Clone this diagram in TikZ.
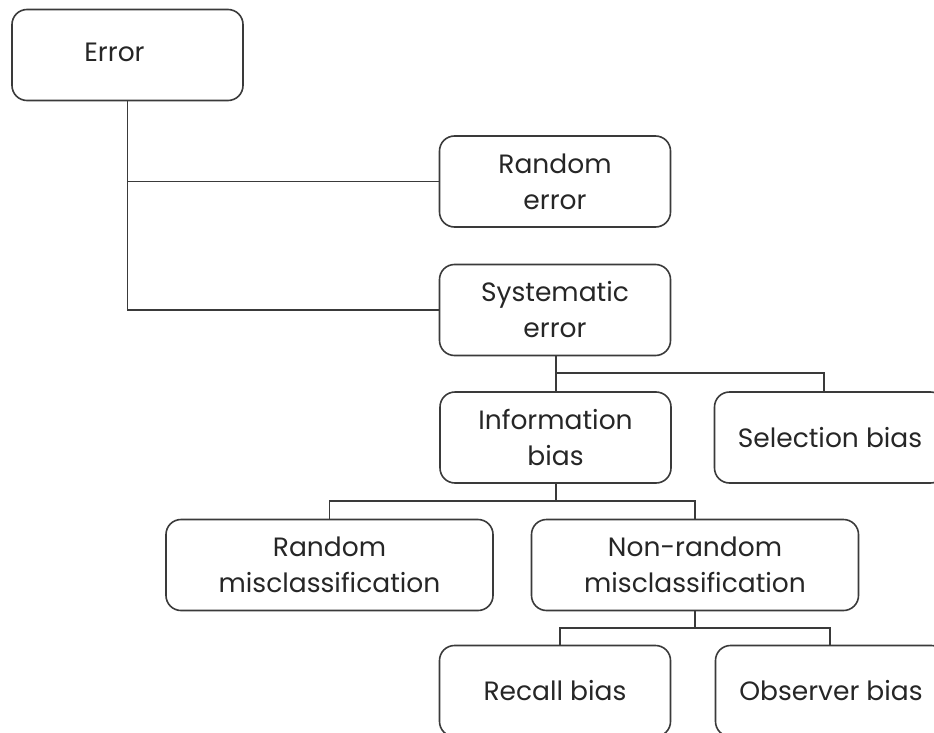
\documentclass[tikz,border=0pt]{standalone}
\usepackage{fontspec}
\setmainfont{Poppins}
\usetikzlibrary{calc}
\definecolor{linec}{HTML}{3A3A3A}
\definecolor{textc}{HTML}{262626}
\tikzset{
  box/.style={draw=linec, line width=1.6pt, rounded corners=15pt, align=center,
    minimum height=91pt, inner sep=0pt, text=textc,
    font=\fontsize{26.5}{36}\selectfont},
  wbox/.style={box, minimum width=231pt},
  bbox/.style={box, minimum width=327pt},
  conn/.style={draw=linec, line width=1.3pt}
}
\begin{document}
\begin{tikzpicture}[x=1pt,y=-1pt]
\useasboundingbox (0,0) rectangle (934,733);
\clip (0,0) rectangle (934,733);
\node[wbox] (err) at (127.5,55) {\raisebox{5pt}{Error}\hspace*{26pt}};
\node[wbox] (rerr) at (555,181.5) {Random\\error};
\node[wbox] (serr) at (555,310) {Systematic\\error};
\node[wbox] (info) at (555.5,437.5) {Information\\bias};
\node[wbox] (sel) at (830,437.5) {Selection bias};
\node[bbox] (rmis) at (329.5,565) {Random\\misclassification};
\node[bbox] (nrmis) at (695,565) {Non-random\\misclassification};
\node[wbox] (rec) at (555,691) {Recall bias};
\node[wbox] (obs) at (831,691) {Observer bias};
% junction levels
\coordinate (j1) at (556,373);
\coordinate (j2) at (556,501);
\coordinate (j3) at (695,628);
% Error branches
\draw[conn] (err.south) -- (err.south |- serr.west) -- (serr.west);
\draw[conn] (err.south |- rerr.west) -- (rerr.west);
% Systematic branches
\draw[conn] (serr.south -| j1) -- (info.north -| j1);
\draw[conn] (j1) -| ([xshift=-6pt]sel.north);
% Information branches
\draw[conn] (info.south -| j2) -- (j2);
\draw[conn] (rmis.north) |- (j2) -| (nrmis.north);
% Non-random branches
\draw[conn] (nrmis.south) -- (j3);
\draw[conn] ([xshift=5pt]rec.north) |- (j3) -| ([xshift=-1pt]obs.north);
\end{tikzpicture}
\end{document}
